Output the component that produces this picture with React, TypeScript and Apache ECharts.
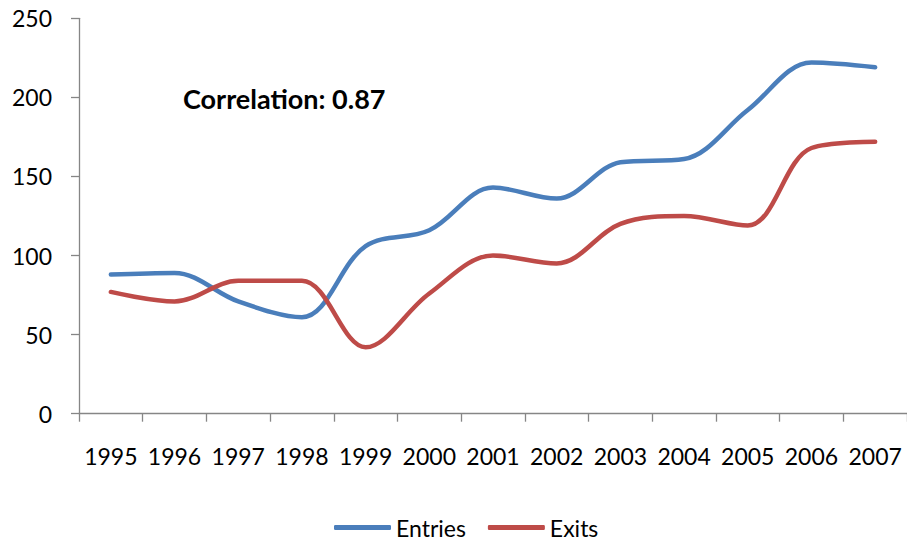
import React, { useEffect, useRef } from 'react'
import * as echarts from 'echarts'

const years = ['1995', '1996', '1997', '1998', '1999', '2000', '2001', '2002', '2003', '2004', '2005', '2006', '2007']
const entries = [88, 89, 71, 61, 106, 116, 143, 136, 159, 161, 192, 222, 219]
const exits = [77, 71, 84, 84, 42, 76, 100, 95, 120, 125, 119, 168, 172]

const FONT = 'Lato, "Open Sans", sans-serif'
const AXIS = '#868686'

const App: React.FC = () => {
  const chartRef = useRef<HTMLDivElement>(null)

  useEffect(() => {
    if (!chartRef.current) return
    const chart = echarts.init(chartRef.current, undefined, { renderer: 'svg' })

    const option = {
      animation: false,
      backgroundColor: '#ffffff',
      textStyle: { fontFamily: FONT },
      grid: { left: 79, right: -7, top: 18.3, bottom: 541 - 413.7 },
      legend: {
        left: 329,
        top: 511,
        icon: 'roundRect',
        itemWidth: 57,
        itemHeight: 5,
        itemGap: 22,
        textStyle: { fontFamily: FONT, fontSize: 23, color: '#000' },
        data: ['Entries', 'Exits'],
      },
      xAxis: {
        type: 'category',
        data: years,
        boundaryGap: true,
        axisLine: { lineStyle: { color: AXIS, width: 1.3 } },
        axisTick: { show: true, length: 8, lineStyle: { color: AXIS, width: 1.3 } },
        axisLabel: { color: '#000', fontSize: 23, fontFamily: FONT, margin: 31, interval: 0 },
        splitLine: { show: false },
      },
      yAxis: {
        type: 'value',
        min: 0,
        max: 250,
        interval: 50,
        axisLine: { show: true, lineStyle: { color: AXIS, width: 1.3 } },
        axisTick: { show: true, length: 8, lineStyle: { color: AXIS, width: 1.3 } },
        axisLabel: { color: '#000', fontSize: 23, fontFamily: FONT, margin: 27 },
        splitLine: { show: false },
      },
      graphic: [
        {
          type: 'text',
          left: 183,
          top: 85,
          style: {
            text: 'Correlation: 0.87',
            font: `bold 27px ${FONT}`,
            fill: '#000',
          },
        },
      ],
      series: [
        {
          name: 'Entries',
          type: 'line',
          data: entries,
          smooth: 0.35,
          symbol: 'none',
          lineStyle: { color: '#4A7EBB', width: 4.5, cap: 'round' },
          itemStyle: { color: '#4A7EBB' },
        },
        {
          name: 'Exits',
          type: 'line',
          data: exits,
          smooth: 0.35,
          symbol: 'none',
          lineStyle: { color: '#BE4B48', width: 4.5, cap: 'round' },
          itemStyle: { color: '#BE4B48' },
        },
      ],
    }

    chart.setOption(option)
    return () => {
      chart.dispose()
    }
  }, [])

  return (
    <div
      ref={chartRef}
      style={{ position: 'fixed', left: 0, top: 0, width: 907, height: 541, overflow: 'hidden' }}
    />
  )
}

export default App
